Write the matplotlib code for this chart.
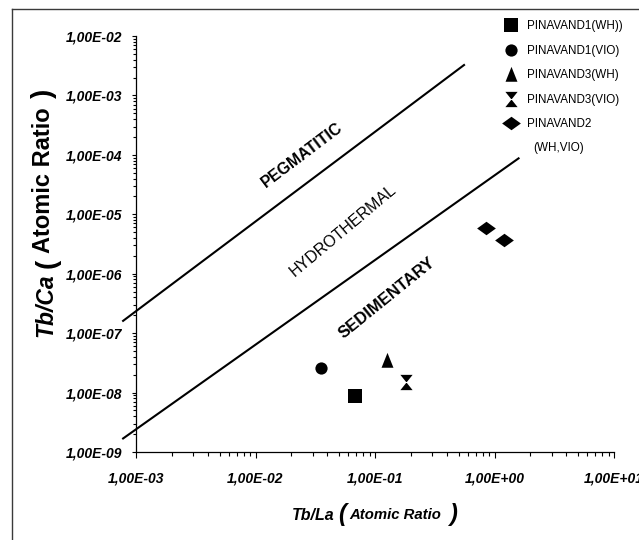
import matplotlib
matplotlib.use("Agg")
import matplotlib.pyplot as plt
from matplotlib import font_manager as fm
from matplotlib.lines import Line2D
from matplotlib.ticker import LogLocator, FuncFormatter, NullFormatter
import numpy as np

# ---------------- data ----------------
sample_names = ["PINAVAND1(WH))", "PINAVAND1(VIO)", "PINAVAND3(WH)",
                "PINAVAND3(VIO)", "PINAVAND2"]
sample_name_suffix = "(WH,VIO)"
tb_la = [[0.068], [0.035], [0.127], [0.181], [0.855, 1.20]]
tb_ca = [[8.7e-9], [2.55e-8], [3.6e-8], [1.51e-8], [5.9e-6, 3.7e-6]]

boundary_upper_x = [7.8e-4, 0.556]
boundary_upper_y = [1.61e-7, 3.25e-3]
boundary_lower_x = [7.8e-4, 1.59]
boundary_lower_y = [1.69e-9, 8.73e-5]

region_labels = ["PEGMATITIC", "HYDROTHERMAL", "SEDIMENTARY"]
region_label_x = [0.0247, 0.0543, 0.126]
region_label_y = [9.9e-5, 5.3e-6, 3.9e-7]

x_limits = [1e-3, 1e1]
y_limits = [1e-9, 1e-2]

FONT = "Liberation Sans"

W, H = 639, 540
fig = plt.figure(figsize=(W / 100, H / 100), dpi=100)

def px(x, y):
    return (x / W, 1 - y / H)

ax = fig.add_axes([136 / W, 1 - 452 / H, (614 - 136) / W, (452 - 36) / H])
ax.set_xscale("log")
ax.set_yscale("log")
ax.set_xlim(*x_limits)
ax.set_ylim(*y_limits)

for s in ["top", "right"]:
    ax.spines[s].set_visible(False)
for s in ["left", "bottom"]:
    ax.spines[s].set_linewidth(0.9)

ax.xaxis.set_major_locator(LogLocator(base=10, numticks=20))
ax.yaxis.set_major_locator(LogLocator(base=10, numticks=20))
ax.xaxis.set_minor_locator(LogLocator(base=10, subs=np.arange(2, 10), numticks=20))
ax.yaxis.set_minor_locator(LogLocator(base=10, subs=np.arange(2, 10), numticks=20))
fmt = FuncFormatter(lambda v, p: f"{v:.2E}".replace(".", ","))
ax.xaxis.set_major_formatter(fmt)
ax.yaxis.set_major_formatter(fmt)
ax.xaxis.set_minor_formatter(NullFormatter())
ax.yaxis.set_minor_formatter(NullFormatter())

ax.tick_params(axis="x", which="major", direction="out", length=4, width=0.8, pad=10)
ax.tick_params(axis="x", which="minor", direction="out", length=3, width=0.8)
ax.tick_params(axis="y", which="major", direction="out", length=3, width=0.8, pad=7)
ax.tick_params(axis="y", which="minor", direction="out", length=2, width=0.8)
for lab in ax.get_xticklabels() + ax.get_yticklabels():
    lab.set_fontfamily(FONT)
    lab.set_fontweight("bold")
    lab.set_fontstyle("italic")
    lab.set_fontsize(10)

# boundary lines
ax.plot(boundary_upper_x, boundary_upper_y, color="black", lw=1.5, clip_on=False)
ax.plot(boundary_lower_x, boundary_lower_y, color="black", lw=1.5, clip_on=False)

# markers
tri = [(0, 1), (-0.78, -0.95), (0.78, -0.95), (0, 1)]
hourglass = [(-0.8, 1), (0.8, 1), (-0.8, -1), (0.8, -1), (-0.8, 1)]
diamond = [(0, 0.72), (1, 0), (0, -0.72), (-1, 0), (0, 0.72)]
markers = ["s", "o", tri, hourglass, diamond]
msizes = [9.4, 8.8, 11, 11, 13.5]

handles = []
for xs, ys, m, ms, name in zip(tb_la, tb_ca, markers, msizes, sample_names):
    h, = ax.plot(xs, ys, linestyle="none", marker=m, markersize=ms,
                 color="black", markeredgewidth=0, label=name, clip_on=False)
    handles.append(h)

# region labels
region_rot = [37, 40, 39]
region_weight = ["bold", "normal", "bold"]
region_size = [11.5, 11.5, 12]
for t, x, y, r, w, s in zip(region_labels, region_label_x, region_label_y,
                            region_rot, region_weight, region_size):
    ax.text(x, y, t, rotation=r, rotation_mode="anchor", ha="center", va="center",
            fontfamily=FONT, fontweight=w, fontsize=s)

# legend
leg = ax.legend(handles=handles, loc="upper left",
                bbox_to_anchor=px(500, 20), bbox_transform=fig.transFigure,
                frameon=False, prop=fm.FontProperties(family=FONT, size=8.4),
                labelspacing=1.08, handlelength=1.8, handletextpad=0.5,
                borderpad=0, borderaxespad=0, numpoints=1)

# second line of the last legend label, placed under it
fig.canvas.draw()
bb = leg.get_texts()[-1].get_window_extent().transformed(fig.transFigure.inverted())
fig.text((bb.x0 + bb.x1) / 2, (bb.y0 + bb.y1) / 2 - 24 / H, sample_name_suffix,
         ha="center", va="center", fontfamily=FONT, fontsize=8.4)

# y axis label pieces
fig.text(*px(46, 337), "Tb/Ca", rotation=90, ha="center", va="bottom",
         fontfamily=FONT, fontweight="bold", fontstyle="italic", fontsize=16.5)
fig.text(*px(48, 263), "(", rotation=90, ha="center", va="center",
         fontfamily=FONT, fontweight="bold", fontsize=20)
fig.text(*px(44, 180), "Atomic Ratio", rotation=90, ha="center", va="center",
         fontfamily=FONT, fontweight="bold", fontsize=17)
fig.text(*px(44, 93), ")", rotation=90, ha="center", va="center",
         fontfamily=FONT, fontweight="bold", fontsize=20)

# x axis label pieces
fig.text(*px(292, 515), "Tb/La", ha="left", va="center",
         fontfamily=FONT, fontweight="bold", fontstyle="italic", fontsize=11.5)
fig.text(*px(342, 515), "(", ha="center", va="center",
         fontfamily=FONT, fontstyle="italic", fontweight="bold", fontsize=17)
fig.text(*px(349, 515), "Atomic Ratio", ha="left", va="center",
         fontfamily=FONT, fontweight="bold", fontstyle="italic", fontsize=10.7)
fig.text(*px(453, 514), ")", ha="center", va="center",
         fontfamily=FONT, fontstyle="italic", fontweight="bold", fontsize=17)

# outer frame (top and left edges visible)
fig.add_artist(Line2D([12 / W, 12 / W], [1 - 9 / H, 0], transform=fig.transFigure,
                      color="#3a3a3a", lw=1.0))
fig.add_artist(Line2D([12 / W, 1], [1 - 9 / H, 1 - 9 / H], transform=fig.transFigure,
                      color="#3a3a3a", lw=1.0))

fig.savefig("out.png", dpi=100)
